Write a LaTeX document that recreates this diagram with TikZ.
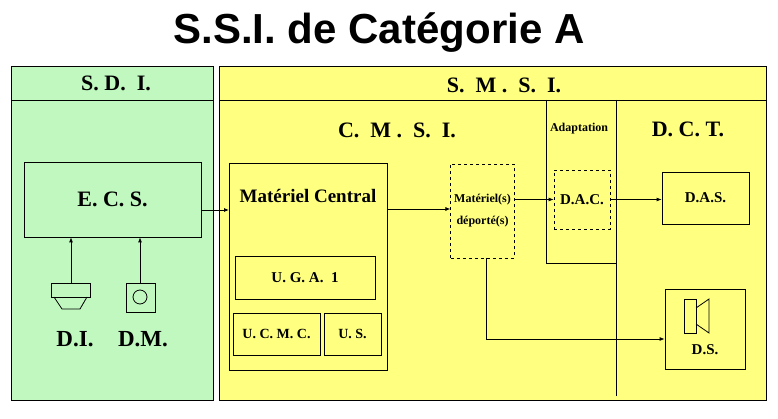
\documentclass[tikz,border=0pt]{standalone}
\usepackage{fontspec}
\setmainfont{Liberation Serif}
\newfontfamily\titlefont{Liberation Sans}
\usetikzlibrary{arrows.meta}
\definecolor{sdigreen}{HTML}{C0F8C0}
\definecolor{smsiyellow}{HTML}{FFFF80}
\tikzset{
  box/.style={draw,line width=0.8pt},
  dbox/.style={draw,dashed,line width=0.8pt},
  con/.style={line width=0.8pt,-{Latex[length=5pt,width=4pt]}},
  ln/.style={line width=0.8pt},
  hdr/.style={font=\bfseries\fontsize{22}{24}\selectfont},
  lbl/.style={font=\bfseries\fontsize{20}{22}\selectfont},
  sm/.style={font=\bfseries\fontsize{12}{14}\selectfont},
  mid/.style={font=\bfseries\fontsize{15}{17}\selectfont}
}
\begin{document}
\begin{tikzpicture}[x=1pt,y=-1pt]
\useasboundingbox (0,0) rectangle (778,419);
\fill[white] (0,0) rectangle (778,419);
\node[font=\titlefont\bfseries\fontsize{42}{46}\selectfont] (title) at (379,33) {S.S.I. de Catégorie A};
% panels
\draw[ln,fill=sdigreen] (11,66) rectangle (213,400);
\draw[ln] (11,100) -- (213,100);
\node[hdr] (sdi) at (116,83) {S. D.\ \ I.};
\draw[ln,fill=smsiyellow] (219,66) rectangle (766,400);
\draw[ln] (219,100) -- (766,100);
\node[hdr] (smsi) at (504,85) {S.\ \ M .\ \ S.\ \ I.};
\draw[ln] (546,100) -- (546,263) -- (616,263);
\draw[ln] (616,100) -- (616,396);
\node[hdr] (cmsi) at (397,130) {C.\ \ M .\ \ S.\ \ I.};
\node[sm] (adapt) at (579,129) {Adaptation};
\node[hdr] (dct) at (688,129) {D. C. T.};
% boxes
\node[box,minimum width=177,minimum height=75,font=\bfseries\fontsize{22}{24}\selectfont] (ecs) at (112.5,199.5) {E. C. S.};
\draw[box] (229,163) rectangle (387,370);
\coordinate (mcl) at (229,210);
\coordinate (mcr) at (387,209);
\node[font=\bfseries\fontsize{19}{21}\selectfont] (mc) at (308,196) {Matériel Central};
\node[box,minimum width=140,minimum height=43,mid] (uga) at (305,277.5) {U. G. A.\ \ 1};
\node[box,minimum width=87,minimum height=42,font=\bfseries\fontsize{14}{16}\selectfont] (ucmc) at (276.5,334) {U. C. M. C.};
\node[box,minimum width=57,minimum height=42,font=\bfseries\fontsize{14}{16}\selectfont] (us) at (352.5,334) {U. S.};
\node[dbox,minimum width=61,minimum height=94,sm,align=center] (md) at (482.5,211) {Matériel(s)\\[8pt]déporté(s)};
\node[dbox,minimum width=56,minimum height=59,mid] (dac) at (582,199.5) {D.A.C.};
\node[box,minimum width=87,minimum height=52,mid] (das) at (705.5,198) {D.A.S.};
\node[box,minimum width=80,minimum height=80] (ds) at (705,329) {};
\node[mid] (dslbl) at (705,350) {D.S.};
% speaker
\draw[ln] (684,299) rectangle (696,333);
\draw[ln] (696,308) -- (709,299) -- (709,333) -- (696,324);
% connectors
\draw[con] (ecs.east |- mcl) -- (mcl);
\draw[con] (mcr) -- (md.west |- mcr);
\draw[con] (md.east |- dac.west) -- (dac.west);
\draw[con] (dac.east) -- (das.west |- dac.east);
\coordinate (mdb) at (486,258);
\draw[con] (mdb) -- (486,339) -- (ds.west |- 0,339);
% detectors
\draw[ln] (51,283) rectangle (90,297);
\draw[ln] (54,297) -- (62,309) -- (80,309) -- (87,297);
\coordinate (di) at (71,283);
\draw[con] (di) -- (di |- ecs.south);
\draw[ln] (126,283) rectangle (155,312);
\draw[ln] (140,297) circle (7);
\coordinate (dm) at (140,283);
\draw[con] (dm) -- (dm |- ecs.south);
\node[font=\bfseries\fontsize{23}{25}\selectfont] (dil) at (75,339) {D.I.};
\node[font=\bfseries\fontsize{23}{25}\selectfont] (dml) at (143,339) {D.M.};
\end{tikzpicture}
\end{document}
